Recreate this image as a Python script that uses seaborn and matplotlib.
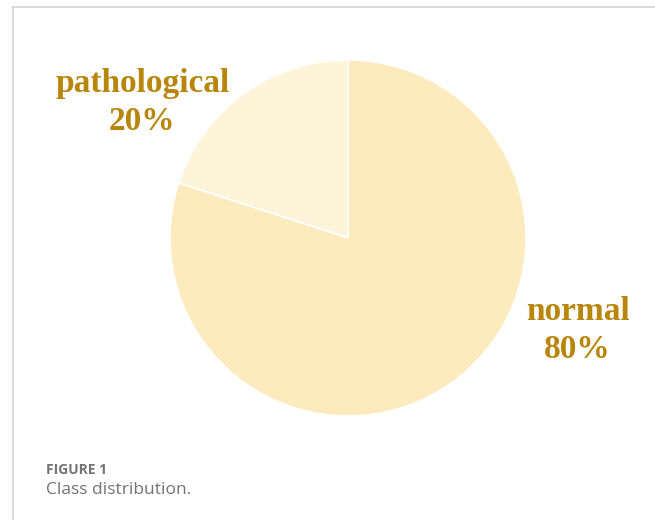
import matplotlib
matplotlib.use("Agg")
import matplotlib.pyplot as plt
from matplotlib.lines import Line2D
import seaborn as sns

# class shares
classes = ["pathological", "normal"]
shares = [20, 80]
slice_colors = ["#fdf4d9", "#fdebbd"]

sns.set_theme(style="white")
plt.rcParams["font.family"] = ["DejaVu Sans"]

fig = plt.figure(figsize=(6.55, 5.2), dpi=100)
fig.patch.set_facecolor("white")

# thin grey frame at the top and left, like the journal page
fig.add_artist(Line2D([12 / 655, 1], [1 - 7 / 520, 1 - 7 / 520], color="#d4d4d4", lw=1.2))
fig.add_artist(Line2D([13 / 655, 13 / 655], [0, 1 - 7 / 520], color="#d4d4d4", lw=1.2))

ax = fig.add_axes([170 / 655, 104 / 520, 356 / 655, 356 / 520])
ax.pie(shares, colors=slice_colors, startangle=90, counterclock=True,
       wedgeprops=dict(edgecolor="white", linewidth=1.2))
ax.set_xlim(-1, 1)
ax.set_ylim(-1, 1)
ax.axis("off")

label_pos = [(-1.155, 0.76), (1.29, -0.52)]
for name, val, (x, y) in zip(classes, shares, label_pos):
    ax.text(x, y, f"{name}\n{val}%", ha="center", va="center",
            fontsize=24, fontweight="bold", family="Liberation Serif",
            color="#b8860b", linespacing=1.3, clip_on=False)

fig.text(46 / 655, 1 - 470 / 520, "FIGURE 1", fontsize=10, fontweight="bold",
         color="#737373", va="center", family="Open Sans")
fig.text(46 / 655, 1 - 490 / 520, "Class distribution.", fontsize=12.5,
         color="#737373", va="center", family="Open Sans")

fig.savefig("out.png", dpi=100)
